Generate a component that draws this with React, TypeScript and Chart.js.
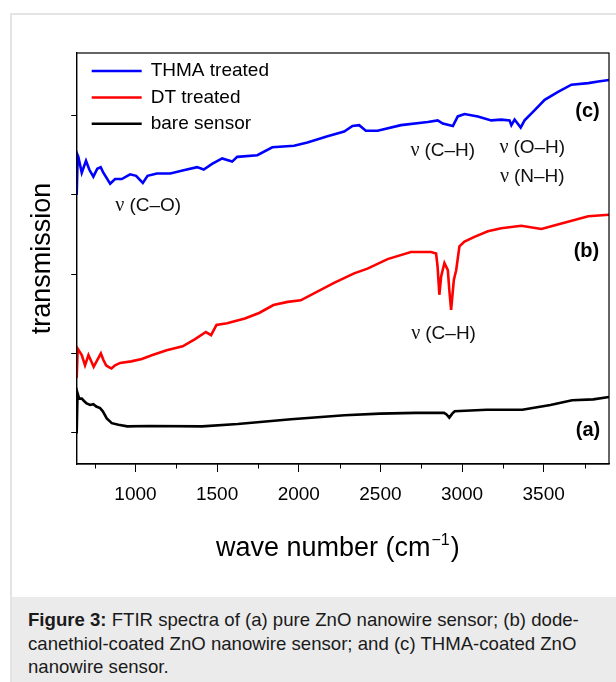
import React, { useEffect, useRef } from "react";
import { Chart, registerables } from "chart.js";

Chart.register(...registerables);

// ---------- data ----------
const thmaWavenumber = [640, 646, 650, 671, 697, 717, 742, 766, 787, 803, 845, 875, 916, 967, 1004, 1045, 1074, 1131, 1213, 1295, 1377, 1418, 1469, 1531, 1592, 1623, 1746, 1838, 1971, 2053, 2176, 2278, 2329, 2370, 2411, 2483, 2626, 2790, 2851, 2882, 2944, 2974, 3015, 3097, 3179, 3240, 3291, 3302, 3322, 3359, 3383, 3445, 3506, 3588, 3670, 3773, 3834, 3900];
const thmaTransmission = [3.0, 3.5, 3.48, 3.28, 3.43, 3.32, 3.23, 3.33, 3.35, 3.28, 3.14, 3.2, 3.2, 3.26, 3.24, 3.15, 3.24, 3.27, 3.27, 3.31, 3.35, 3.32, 3.39, 3.46, 3.42, 3.48, 3.5, 3.6, 3.62, 3.66, 3.74, 3.8, 3.87, 3.88, 3.81, 3.81, 3.88, 3.92, 3.94, 3.9, 3.87, 3.99, 4.02, 3.99, 3.94, 3.95, 3.94, 3.88, 3.95, 3.85, 3.94, 4.07, 4.2, 4.3, 4.39, 4.41, 4.43, 4.45];

const dtWavenumber = [640, 646, 671, 691, 712, 744, 788, 803, 820, 834, 853, 875, 906, 974, 1039, 1104, 1191, 1289, 1365, 1431, 1463, 1496, 1561, 1670, 1757, 1845, 1932, 2012, 2216, 2339, 2421, 2544, 2687, 2810, 2841, 2850, 2861, 2872, 2892, 2913, 2922, 2933, 2942, 2950, 2964, 2984, 3015, 3076, 3158, 3240, 3363, 3486, 3609, 3773, 3900];
const dtTransmission = [0.69, 1.06, 0.98, 0.85, 0.98, 0.83, 1.0, 0.92, 0.85, 0.83, 0.81, 0.85, 0.88, 0.9, 0.93, 0.98, 1.04, 1.09, 1.18, 1.27, 1.23, 1.36, 1.38, 1.44, 1.51, 1.61, 1.65, 1.67, 1.89, 2.01, 2.07, 2.19, 2.28, 2.28, 2.26, 2.1, 1.74, 1.97, 2.14, 2.05, 1.8, 1.55, 1.75, 1.93, 2.05, 2.35, 2.41, 2.47, 2.54, 2.58, 2.61, 2.57, 2.64, 2.73, 2.75];

const bareWavenumber = [640, 645, 655, 671, 685, 701, 722, 742, 760, 783, 800, 824, 855, 896, 950, 1082, 1408, 1626, 1953, 2280, 2497, 2716, 2890, 2905, 2922, 2940, 2955, 3151, 3369, 3541, 3674, 3804, 3900];
const bareTransmission = [-0.01, 0.5, 0.43, 0.43, 0.4, 0.37, 0.35, 0.36, 0.33, 0.31, 0.27, 0.18, 0.12, 0.1, 0.08, 0.085, 0.08, 0.11, 0.17, 0.22, 0.24, 0.25, 0.25, 0.23, 0.19, 0.24, 0.27, 0.29, 0.29, 0.35, 0.41, 0.42, 0.45];

const seriesLabels = ["THMA treated", "DT treated", "bare sensor"];
const xMajorTicks = [1000, 1500, 2000, 2500, 3000, 3500];
const xMinorTicks = [750, 1250, 1750, 2250, 2750, 3250, 3750];
const yTicks = [0, 1, 2, 3, 4];

const bandLabels = ["(C–O)", "(C–H)", "(O–H)", "(N–H)", "(C–H)"];
const bandWavenumbers = [1078, 2882, 3430, 3430, 2887];
const bandLevels = [2.86, 3.56, 3.59, 3.23, 1.25];
const curveTags = ["(c)", "(b)", "(a)"];
const curveTagWavenumbers = [3768, 3762, 3771];
const curveTagLevels = [4.05, 2.28, 0.03];

// ---------- styles ----------
const SANS = '"Liberation Sans", Arial, Helvetica, sans-serif';
const SERIF = '"Liberation Serif", "Times New Roman", serif';
const colors = ["#0000ff", "#ff0000", "#000000"];

const toPoints = (xs: number[], ys: number[]) => xs.map((x, i) => ({ x, y: ys[i] }));

const decorPlugin = {
  id: "decor",
  afterDraw(chart: any) {
    const { ctx, chartArea: a, scales } = chart;
    const xs = scales.x;
    const ys = scales.y;
    ctx.save();
    // frame
    ctx.strokeStyle = "#000";
    ctx.lineWidth = 1.2;
    ctx.strokeRect(a.left, a.top, a.right - a.left, a.bottom - a.top);
    // minor ticks
    ctx.lineWidth = 1;
    ctx.beginPath();
    xMinorTicks.forEach((v) => {
      const px = Math.round(xs.getPixelForValue(v)) + 0.5;
      ctx.moveTo(px, a.bottom);
      ctx.lineTo(px, a.bottom + 4.5);
    });
    ctx.stroke();

    // legend
    chart.data.datasets.forEach((ds: any, i: number) => {
      const y = a.top + 18 + i * 26.4;
      ctx.strokeStyle = ds.borderColor;
      ctx.lineWidth = 2.5;
      ctx.beginPath();
      ctx.moveTo(a.left + 15, y);
      ctx.lineTo(a.left + 65, y);
      ctx.stroke();
      ctx.fillStyle = "#000";
      ctx.font = `19px ${SANS}`;
      ctx.textBaseline = "middle";
      ctx.textAlign = "left";
      ctx.fillText(ds.label, a.left + 74, y);
    });

    // band annotations: serif nu + sans text
    ctx.textBaseline = "middle";
    ctx.textAlign = "left";
    bandLabels.forEach((txt, i) => {
      const cx = xs.getPixelForValue(bandWavenumbers[i]);
      const cy = ys.getPixelForValue(bandLevels[i]);
      ctx.font = `20px ${SERIF}`;
      const nu = "ν ";
      const w1 = ctx.measureText(nu).width;
      ctx.font = `19px ${SANS}`;
      const w2 = ctx.measureText(txt).width;
      const x0 = cx - (w1 + w2) / 2;
      ctx.fillStyle = "#111";
      ctx.font = `20px ${SERIF}`;
      ctx.fillText(nu, x0, cy);
      ctx.font = `19px ${SANS}`;
      ctx.fillText(txt, x0 + w1, cy);
    });

    // curve tags
    ctx.font = `bold 20px ${SANS}`;
    ctx.textAlign = "center";
    ctx.fillStyle = "#000";
    curveTags.forEach((t, i) => {
      ctx.fillText(t, xs.getPixelForValue(curveTagWavenumbers[i]), ys.getPixelForValue(curveTagLevels[i]));
    });

    // x-axis title with superscript
    const main = "wave number (cm";
    const sup = "−1";
    const close = ")";
    ctx.textAlign = "left";
    ctx.textBaseline = "alphabetic";
    ctx.font = `27px ${SANS}`;
    const wm = ctx.measureText(main).width;
    const wc = ctx.measureText(close).width;
    ctx.font = `16px ${SANS}`;
    const ws = ctx.measureText(sup).width;
    const total = wm + ws + wc;
    const tx = (a.left + a.right) / 2 - 6 - total / 2;
    const ty = a.bottom + 92;
    ctx.font = `27px ${SANS}`;
    ctx.fillText(main, tx, ty);
    ctx.font = `16px ${SANS}`;
    ctx.fillText(sup, tx + wm + 1, ty - 11);
    ctx.font = `27px ${SANS}`;
    ctx.fillText(close, tx + wm + ws + 2, ty);
    ctx.restore();
  },
};

function FtirChart() {
  const ref = useRef<HTMLCanvasElement | null>(null);
  useEffect(() => {
    if (!ref.current) return;
    const seriesX = [thmaWavenumber, dtWavenumber, bareWavenumber];
    const seriesY = [thmaTransmission, dtTransmission, bareTransmission];
    const chart = new Chart(ref.current, {
      type: "line",
      data: {
        datasets: seriesLabels.map((label, i) => ({
          label,
          data: toPoints(seriesX[i], seriesY[i]),
          borderColor: colors[i],
          backgroundColor: colors[i],
          borderWidth: 2.6,
          pointRadius: 0,
          tension: 0,
          fill: false,
        })),
      },
      options: {
        responsive: false,
        animation: false,
        events: [],
        layout: { padding: { left: 0, top: 53, right: 7, bottom: 0 } },
        plugins: { legend: { display: false }, tooltip: { enabled: false } },
        scales: {
          x: {
            type: "linear",
            min: 640,
            max: 3900,
            afterBuildTicks: (s: any) => {
              s.ticks = xMajorTicks.map((v) => ({ value: v }));
            },
            afterFit: (s: any) => {
              s.height = 133;
            },
            grid: { display: true, drawOnChartArea: false, drawTicks: true, tickLength: 8, color: "#000", lineWidth: 1 },
            border: { display: true, color: "#000", width: 1.2 },
            ticks: {
              color: "#000",
              font: { family: SANS, size: 19 },
              padding: 11.5,
              maxRotation: 0,
              autoSkip: false,
              callback: (v: any) => String(v),
            },
            title: { display: false },
          },
          y: {
            type: "linear",
            min: -0.395,
            max: 4.79,
            afterBuildTicks: (s: any) => {
              s.ticks = yTicks.map((v) => ({ value: v }));
            },
            afterFit: (s: any) => {
              s.width = 76.7;
            },
            grid: { display: true, drawOnChartArea: false, drawTicks: true, tickLength: 5.5, color: "#000", lineWidth: 1 },
            border: { display: true, color: "#000", width: 1.2 },
            ticks: { display: false },
            title: {
              display: true,
              text: "transmission",
              color: "#000",
              font: { family: SANS, size: 27 },
              padding: { top: 26.8, bottom: 0 },
            },
          },
        },
      },
      plugins: [decorPlugin],
    } as any);
    return () => chart.destroy();
  }, []);
  return <canvas ref={ref} width={616} height={597} style={{ position: "absolute", left: 0, top: 0, width: 616, height: 597 }} />;
}

export default function App() {
  return (
    <div style={{ position: "absolute", left: 0, top: 0, width: 616, height: 682, overflow: "hidden", background: "#fff" }}>
      <div style={{ position: "absolute", left: 10, top: 13, width: 700, height: 700, border: "2px solid #e4e4e4", boxSizing: "border-box" }} />
      <div
        style={{
          position: "absolute",
          left: 12,
          top: 597,
          width: 604,
          height: 85,
          background: "#ebebeb",
          boxSizing: "border-box",
          padding: "11px 0 0 16px",
          fontFamily: SANS,
          fontSize: 18.6,
          lineHeight: "23.5px",
          color: "#1a1a1a",
          whiteSpace: "nowrap",
        }}
      >
        <b>Figure 3:</b> FTIR spectra of (a) pure ZnO nanowire sensor; (b) dode-
        <br />
        canethiol-coated ZnO nanowire sensor; and (c) THMA-coated ZnO
        <br />
        nanowire sensor.
      </div>
      <FtirChart />
    </div>
  );
}
